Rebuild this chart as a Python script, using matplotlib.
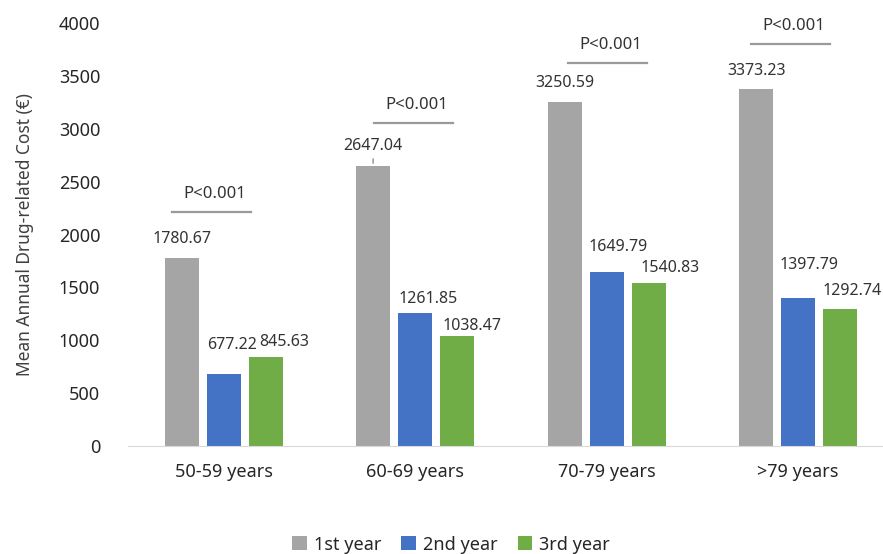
import numpy as np
import matplotlib.pyplot as plt

plt.rcParams['font.family'] = ['Noto Sans', 'DejaVu Sans']

groups = ['50-59 years', '60-69 years', '70-79 years', '>79 years']
series = ['1st year', '2nd year', '3rd year']
year1 = [1780.67, 2647.04, 3250.59, 3373.23]
year2 = [677.22, 1261.85, 1649.79, 1397.79]
year3 = [845.63, 1038.47, 1540.83, 1292.74]
p_text = ['P<0.001', 'P<0.001', 'P<0.001', 'P<0.001']
colors = ['#A5A5A5', '#4472C4', '#70AD47']

# label offsets in pixels (dx, dy above bar top)
lab_off = [[(0, 19), (0, 20), (0, 19), (0, 18)],
           [(8, 29), (13, 14), (11, 25), (11, 33)],
           [(18, 15), (15, 10), (21, 15), (12, 18)]]
# p-value bar: shift from group centre (data units) and lift above tallest bar
p_dx = [-0.063, -0.008, 0.005, -0.04]
p_lift = [435, 405, 370, 425]

fig = plt.figure(figsize=(8.83, 5.54), dpi=100)
ax = fig.add_axes([128/883, 108/554, 766/883, 423/554])

x = np.arange(len(groups))
step = 0.22
width = 0.178
data = [year1, year2, year3]
for k, vals in enumerate(data):
    xs = x + (k - 1) * step
    ax.bar(xs, vals, width, color=colors[k], label=series[k], zorder=2)
    for i, v in enumerate(vals):
        dx, dy = lab_off[k][i]
        ax.annotate(f'{v:.2f}', (xs[i], v), xytext=(dx, dy),
                    textcoords='offset pixels', ha='center', va='center',
                    fontsize=11.5, color='#333333')

# leader line for 2647.04
ax.annotate('', (x[1] - step, year1[1]), xytext=(0, 10), textcoords='offset pixels',
            arrowprops=dict(arrowstyle='-', color='#8c8c8c', lw=1))

for i in range(len(groups)):
    top = max(year1[i], year2[i], year3[i])
    yl = top + p_lift[i]
    cx = x[i] + p_dx[i]
    ax.plot([cx - 0.207, cx + 0.207], [yl, yl], color='#9a9a9a', lw=1.6)
    ax.annotate(p_text[i], (cx, yl), xytext=(3, 18), textcoords='offset pixels',
                ha='center', va='center', fontsize=12, color='#333333')

ax.set_xlim(-0.5, 3.5)
ax.set_ylim(0, 4000)
ax.set_yticks(np.arange(0, 4001, 500))
ax.set_xticks(x)
ax.set_xticklabels(groups)
for s in ['top', 'right', 'left']:
    ax.spines[s].set_visible(False)
ax.spines['bottom'].set_color('#D9D9D9')
ax.tick_params(axis='y', length=0, pad=20, labelsize=13, labelcolor='#262626')
ax.tick_params(axis='x', length=0, pad=12, labelsize=13, labelcolor='#262626')
ax.set_ylabel('Mean Annual Drug-related Cost (€)', fontsize=12.5, color='#404040', labelpad=18)

fig.legend(loc='center', bbox_to_anchor=(0.511, 0.017), ncol=3, frameon=False,
           fontsize=13, handlelength=0.8, handleheight=0.8, handletextpad=0.4,
           columnspacing=1.1, labelcolor='#262626')

fig.savefig('out.png', dpi=100)
